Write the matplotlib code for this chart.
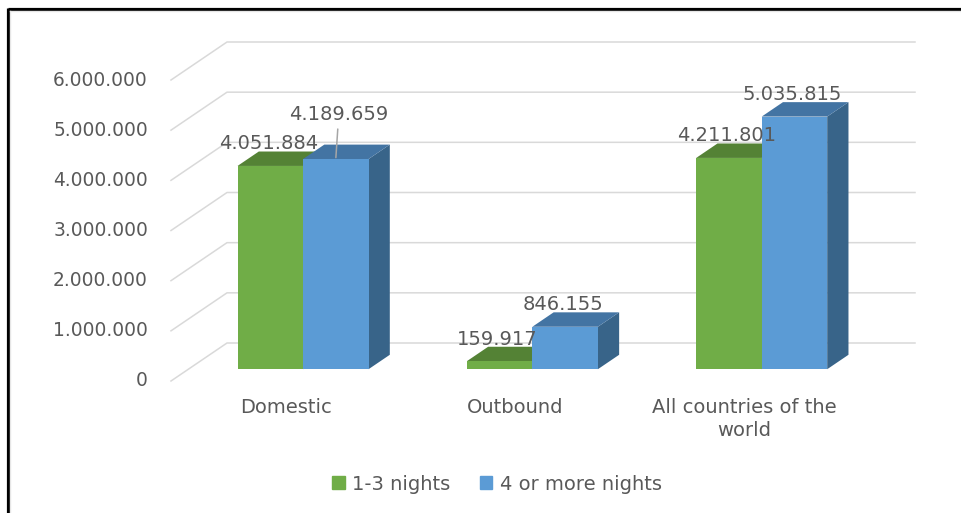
import matplotlib.pyplot as plt
from matplotlib.lines import Line2D
from matplotlib.patches import Patch, Polygon

categories = ["Domestic", "Outbound", "All countries of the\nworld"]
series = ["1-3 nights", "4 or more nights"]
short_stay = [4051884, 159917, 4211801]
long_stay = [4189659, 846155, 5035815]
y_ticks = [0, 1000000, 2000000, 3000000, 4000000, 5000000, 6000000]

# front, top and side shades for each series
shades = {
    "1-3 nights": ("#70ad47", "#548235", "#4e7a31"),
    "4 or more nights": ("#5b9bd5", "#4374a3", "#386489"),
}
text_col = "#595959"
grid_col = "#d9d9d9"


def dotted(v):
    return f"{v:,}".replace(",", ".")


W, H = 961, 513
fig = plt.figure(figsize=(W / 100, H / 100), dpi=100)
plt.rcParams["font.family"] = ["DejaVu Sans"]

# axes = the front plane of the 3d box, in pixels
left, right, y0, y1 = 171, 859, 381, 80
ax = fig.add_axes([left / W, (H - y0) / H, (right - left) / W, (y0 - y1) / H])
ax.set_xlim(0, len(categories))
ax.set_ylim(0, 6000000)
ax.axis("off")

# depth of the box expressed in data units
px_x = len(categories) / (right - left)
px_y = 6000000 / (y0 - y1)
dep_x = 56 * px_x
dep_y = 38 * px_y
f0, f1 = 0.31, 0.69  # bars sit in the middle of the depth
bar_w = 65.5 * px_x

# side wall + back wall gridlines
for v in y_ticks:
    ax.plot([0, dep_x, len(categories) + dep_x], [v, v + dep_y, v + dep_y],
            color=grid_col, lw=1.1, clip_on=False, zorder=1)
    ax.annotate(dotted(v), xy=(0, v), xytext=(-23, 0), textcoords="offset pixels",
                ha="right", va="center", fontsize=13.4, color=text_col)


def box(x, v, front, top, side):
    bx = x + f0 * dep_x
    by = f0 * dep_y
    dx = (f1 - f0) * dep_x
    dy = (f1 - f0) * dep_y
    pts_side = [(bx + bar_w, by), (bx + bar_w + dx, by + dy),
                (bx + bar_w + dx, by + dy + v), (bx + bar_w, by + v)]
    pts_top = [(bx, by + v), (bx + bar_w, by + v),
               (bx + bar_w + dx, by + dy + v), (bx + dx, by + dy + v)]
    ax.add_patch(Polygon(pts_side, closed=True, fc=side, ec="none", clip_on=False, zorder=3))
    ax.add_patch(Polygon(pts_top, closed=True, fc=top, ec="none", clip_on=False, zorder=3))
    ax.bar(bx, v, width=bar_w, align="edge", bottom=by, color=front,
           edgecolor="none", clip_on=False, zorder=3)
    return bx + bar_w / 2, by + v


for i, cat in enumerate(categories):
    c = i + 0.5
    for j, (name, vals) in enumerate(zip(series, [short_stay, long_stay])):
        v = vals[i]
        xc, yt = box(c - bar_w + j * bar_w, v, *shades[name])
        if i == 0 and j == 1:
            # label pulled up with a leader line
            ax.annotate(dotted(v), xy=(xc, yt), xytext=(3, 45), textcoords="offset pixels",
                        ha="center", va="center", fontsize=14, color=text_col, zorder=5)
            ax.annotate("", xy=(xc, yt), xytext=(2, 30), textcoords="offset pixels",
                        xycoords="data",
                        arrowprops=dict(arrowstyle="-", color="#a6a6a6", lw=1.1,
                                        shrinkA=0, shrinkB=1))
        else:
            ax.annotate(dotted(v), xy=(xc, yt), xytext=(-2, 22), textcoords="offset pixels",
                        ha="center", va="center", fontsize=14, color=text_col, zorder=5)
    ax.annotate(cat, xy=(c, 0), xytext=(0, -17), textcoords="offset pixels",
                ha="center", va="top", fontsize=14, color=text_col, linespacing=1.25)

handles = [Patch(color=shades[s][0], label=s) for s in series]
fig.legend(handles=handles, loc="center", bbox_to_anchor=(497 / W, 1 - 484 / H),
           ncol=2, frameon=False, fontsize=14, handlelength=0.65, handleheight=0.65,
           handletextpad=0.4, columnspacing=1.5, labelcolor=text_col)

# black frame on the top and left edges
fig.add_artist(Line2D([8 / W, 1], [1 - 9 / H, 1 - 9 / H], color="black", lw=2.3,
                      solid_capstyle="butt"))
fig.add_artist(Line2D([8 / W, 8 / W], [0, 1 - 8 / H], color="black", lw=2.3,
                      solid_capstyle="butt"))
fig.add_artist(Line2D([10 / W, 1], [1 - 11 / H, 1 - 11 / H], color="#e6e6e6", lw=1))
fig.add_artist(Line2D([10 / W, 10 / W], [0, 1 - 11 / H], color="#e6e6e6", lw=1))

fig.savefig("out.png", dpi=100)
